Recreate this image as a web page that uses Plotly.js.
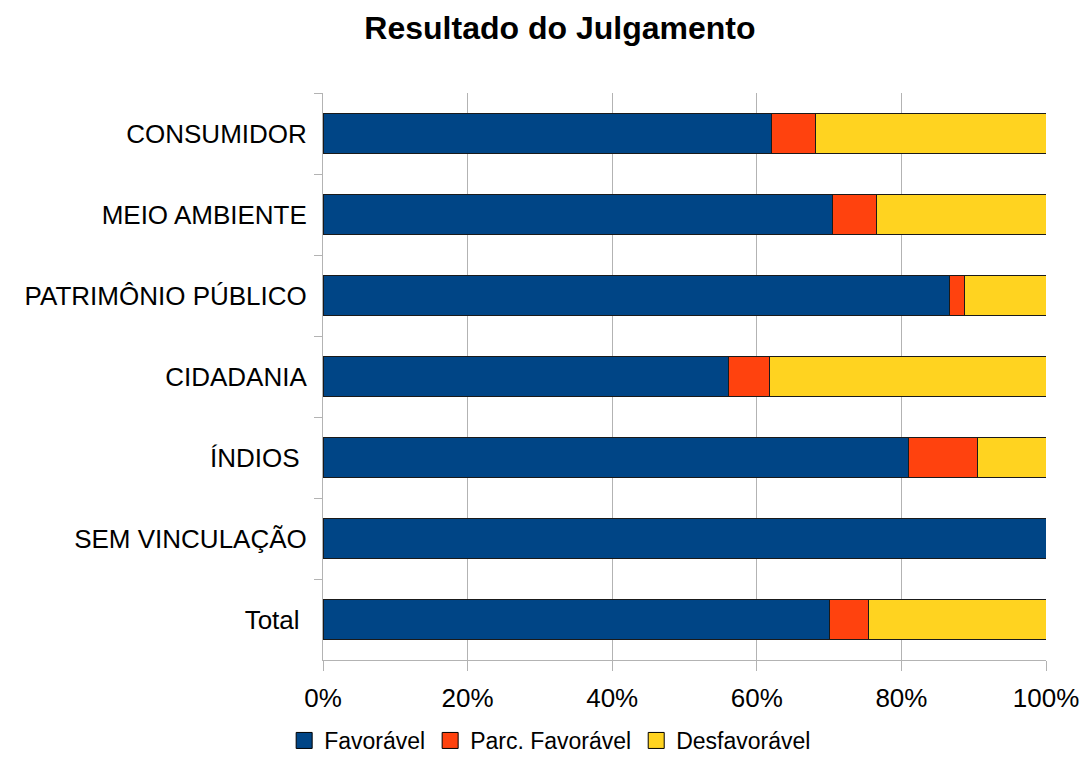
<!DOCTYPE html>
<html><head><meta charset="utf-8">
<script src="https://cdn.plot.ly/plotly-3.0.1.min.js"></script>
<style>body{margin:0;background:#fff}#c{width:1083px;height:762px}</style>
</head><body><div id="c"></div>
<script>
const categories = ["CONSUMIDOR", "MEIO AMBIENTE", "PATRIMÔNIO PÚBLICO", "CIDADANIA", "ÍNDIOS\u00a0", "SEM VINCULAÇÃO", "Total\u00a0"];
const favoravel = [62.1, 70.5, 86.7, 56.1, 81.0, 100, 70.1];
const parcFavoravel = [6.0, 6.0, 2.0, 5.6, 9.5, 0, 5.3];
const desfavoravel = [31.9, 23.5, 11.3, 38.3, 9.5, 0, 24.6];
const seriesNames = ["Favorável", "Parc. Favorável", "Desfavorável"];
const colors = ["#004586", "#ff420e", "#ffd320"];

const series = [favoravel, parcFavoravel, desfavoravel];
const traces = series.map((vals, i) => ({
  type: 'bar', orientation: 'h', name: seriesNames[i], legendgroup: 'g' + i,
  y: categories, x: vals, showlegend: false,
  marker: {color: colors[i], line: {color: '#1a1a1a', width: 1}},
  hoverinfo: 'x+name'
}));
// legend entries with square symbols
seriesNames.forEach((n, i) => traces.push({
  type: 'scatter', mode: 'markers', name: n, legendgroup: 'g' + i,
  x: [null], y: [null], showlegend: true,
  marker: {symbol: 'square', size: 18, color: colors[i], line: {color: '#000', width: 1}}
}));

const layout = {
  width: 1083, height: 762,
  barmode: 'stack', bargap: 0.5,
  paper_bgcolor: '#fff', plot_bgcolor: '#fff',
  font: {family: 'Liberation Sans, Arial, sans-serif', color: '#000'},
  margin: {l: 323, r: 37, t: 93, b: 102},
  title: {text: '<b>Resultado do Julgamento</b>', font: {size: 32, color: '#000'},
          x: 0.517, xref: 'container', xanchor: 'center', y: 0.964, yref: 'container', yanchor: 'middle'},
  xaxis: {range: [0, 100], dtick: 20, ticksuffix: '%', showgrid: true, gridcolor: '#b3b3b3', gridwidth: 1,
          ticks: 'outside', ticklen: 10, tickcolor: '#b3b3b3', showline: true, linecolor: '#b3b3b3',
          tickfont: {size: 26}, zeroline: false, fixedrange: true, ticklabelstandoff: 5},
  yaxis: {autorange: 'reversed', tickson: 'boundaries', ticks: 'outside', ticklen: 8, tickcolor: '#b3b3b3',
          showline: true, linecolor: '#b3b3b3', showgrid: false, tickfont: {size: 26}, fixedrange: true,
          ticklabelstandoff: 10},
  legend: {orientation: 'h', xref: 'container', yref: 'container', x: 0.508, xanchor: 'center',
           y: 0, yanchor: 'bottom', font: {size: 23}, traceorder: 'normal', itemsizing: 'trace'},
  showlegend: true
};
Plotly.newPlot('c', traces, layout, {displayModeBar: false, staticPlot: true});
</script></body></html>
